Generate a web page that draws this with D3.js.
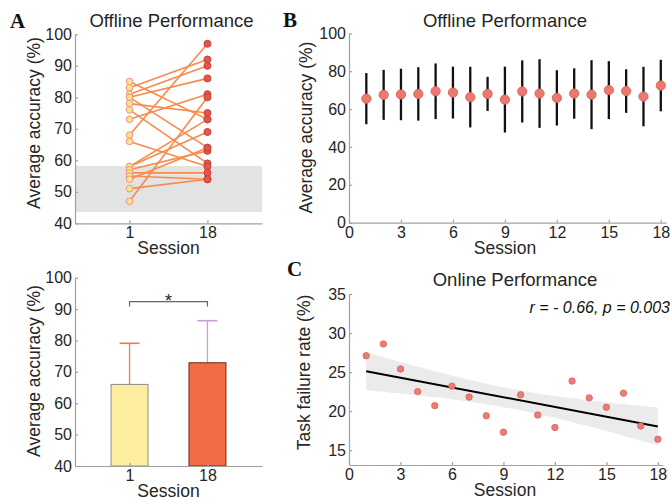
<!DOCTYPE html>
<html>
<head>
<meta charset="utf-8">
<script src="https://cdn.jsdelivr.net/npm/d3@7.9.0/dist/d3.min.js"></script>
<style>
  body { margin: 0; background: #fff; }
  svg { display: block; font-family: "Liberation Sans", Arial, sans-serif; }
  .axis path, .axis line { stroke: #a0a0a0; stroke-width: 1.2; }
  .axis text { fill: #262626; font-size: 16px; }
  .title { fill: #262626; font-size: 18.5px; text-anchor: middle; }
  .label { fill: #262626; font-size: 17.5px; text-anchor: middle; }
  .letter { fill: #111; font-size: 21px; font-weight: bold; font-family: "Liberation Serif", serif; }
</style>
</head>
<body>
<svg width="672" height="500"></svg>
<script>
// Panel A: accuracy of each subject at session 1 and session 18
const session1 = [85, 83, 81, 80, 80, 78, 76, 73, 68, 66, 58, 58, 57, 56, 55, 54, 51, 47];
const session18 = [73, 92, 90, 86, 64, 75, 59, 81, 97, 58, 73, 69, 63, 56, 54, 64, 54, 80];
const chanceBand = [43.6, 58.2];

// Bottom-left bars (mean and sd):
const barLabels = ['1', '18'];
const barMeans = [66, 72.9];
const barSDs = [13.1, 13.4];

// Panel B: offline accuracy per session
const sessions = [1, 2, 3, 4, 5, 6, 7, 8, 9, 10, 11, 12, 13, 14, 15, 16, 17, 18];
const offlineMean = [65.5, 67.5, 67.7, 68, 69.4, 68.7, 66.3, 68, 65, 69.3, 68.2, 65.9, 68.2, 67.6, 70, 69.5, 66.6, 72.4];
const offlineSD = [13.5, 13.2, 13.6, 14.1, 14.7, 13.7, 16, 9, 17.4, 16.4, 18.1, 14.6, 13.3, 18.2, 15.3, 11.5, 15.7, 13.6];

// Panel C: online task failure rate per session
const failureRate = [27.1, 28.6, 25.4, 22.5, 20.7, 23.2, 21.8, 19.4, 17.3, 22.1, 19.5, 17.9, 23.85, 21.7, 20.5, 22.3, 18.1, 16.4];

const svg = d3.select('svg');

// Shared helper for the MATLAB-like axes (ticks point inward):
function drawAxes(x, y, xTicks, yTicks, xFormat) {
  let [x0] = x.range();
  let [y0] = y.range();
  svg.append('g')
    .attr('class', 'axis')
    .attr('transform', `translate(0,${y0})`)
    .call(d3.axisBottom(x).tickValues(xTicks).tickSize(-3).tickSizeOuter(0).tickPadding(3.5).tickFormat(xFormat))
    .attr('font-family', null).attr('font-size', null);
  svg.append('g')
    .attr('class', 'axis')
    .attr('transform', `translate(${x0},0)`)
    .call(d3.axisLeft(y).tickValues(yTicks).tickSize(-3).tickSizeOuter(0).tickPadding(3))
    .attr('font-family', null).attr('font-size', null);
}

function addText(cls, x, y, txt, rotate) {
  let t = svg.append('text').attr('class', cls).text(txt);
  if (rotate) t.attr('transform', `translate(${x},${y}) rotate(-90)`);
  else t.attr('x', x).attr('y', y);
  return t;
}

// ---------- Panel A ----------
let xA = d3.scaleLinear().domain([0.3, 2.7]).range([75, 262]);
let yA = d3.scaleLinear().domain([40, 100]).range([223.3, 34.3]);

svg.append('rect')
  .attr('x', xA(0.3)).attr('width', xA(2.7) - xA(0.3))
  .attr('y', yA(chanceBand[1])).attr('height', yA(chanceBand[0]) - yA(chanceBand[1]))
  .attr('fill', '#e3e3e3');

drawAxes(xA, yA, [1, 2], d3.range(40, 101, 10), (d) => barLabels[d - 1]);

session1.forEach((v, i) => {
  svg.append('line')
    .attr('x1', xA(1)).attr('y1', yA(v))
    .attr('x2', xA(2)).attr('y2', yA(session18[i]))
    .attr('stroke', '#f98a4c').attr('stroke-width', 1.6);
});
session1.forEach((v) => {
  svg.append('circle').attr('cx', xA(1)).attr('cy', yA(v)).attr('r', 3.3)
    .attr('fill', '#fde58c').attr('stroke', '#e8967a').attr('stroke-width', 1);
});
session18.forEach((v) => {
  svg.append('circle').attr('cx', xA(2)).attr('cy', yA(v)).attr('r', 3.5)
    .attr('fill', '#e8534a').attr('stroke', '#c6403a').attr('stroke-width', 1);
});

addText('letter', 10, 28, 'A');
addText('title', 171.5, 27, 'Offline Performance');
addText('label', 168.5, 254, 'Session');
addText('label', 40, 123, 'Average accuracy (%)', true);

// ---------- Bottom-left bars ----------
let yBar = d3.scaleLinear().domain([40, 100]).range([466, 277.7]);
let barFill = ['#fdee9f', '#f26b43'];
let barStroke = ['#8c8c8c', '#6b2b1a'];
let errColor = ['#f07a4a', '#c79fd0'];

barMeans.forEach((m, i) => {
  let cx = xA(i + 1);
  // error bar (upper half only)
  svg.append('line').attr('x1', cx).attr('x2', cx)
    .attr('y1', yBar(m)).attr('y2', yBar(m + barSDs[i]))
    .attr('stroke', errColor[i]).attr('stroke-width', 1.3);
  svg.append('line').attr('x1', cx - 10).attr('x2', cx + 10)
    .attr('y1', yBar(m + barSDs[i])).attr('y2', yBar(m + barSDs[i]))
    .attr('stroke', errColor[i]).attr('stroke-width', 1.6);
  svg.append('rect')
    .attr('x', cx - 18.5).attr('width', 37)
    .attr('y', yBar(m)).attr('height', yBar(40) - yBar(m))
    .attr('fill', barFill[i]).attr('stroke', barStroke[i]).attr('stroke-width', 1);
});

drawAxes(xA, yBar, [1, 2], d3.range(40, 101, 10), (d) => barLabels[d - 1]);

// significance bracket
let brY = yBar(92.4);
svg.append('path')
  .attr('d', `M${xA(1)},${brY + 5}V${brY}H${xA(2)}V${brY + 5}`)
  .attr('fill', 'none').attr('stroke', '#666').attr('stroke-width', 1.2);
svg.append('text').attr('x', (xA(1) + xA(2)) / 2).attr('y', brY + 5)
  .attr('text-anchor', 'middle').attr('font-size', 18).attr('fill', '#222').text('*');

addText('label', 168.5, 497, 'Session');
addText('label', 40, 371, 'Average accuracy (%)', true);

// ---------- Panel B ----------
let xB = d3.scaleLinear().domain([0, 18.3]).range([349, 666]);
let yB = d3.scaleLinear().domain([0, 100]).range([222.7, 33.3]);

drawAxes(xB, yB, d3.range(0, 19, 3), d3.range(0, 101, 20), d3.format('d'));

sessions.forEach((s, i) => {
  svg.append('line')
    .attr('x1', xB(s)).attr('x2', xB(s))
    .attr('y1', yB(offlineMean[i] - offlineSD[i])).attr('y2', yB(offlineMean[i] + offlineSD[i]))
    .attr('stroke', '#111').attr('stroke-width', 2.3);
});
sessions.forEach((s, i) => {
  svg.append('circle').attr('cx', xB(s)).attr('cy', yB(offlineMean[i])).attr('r', 4.6)
    .attr('fill', '#ea7a70').attr('stroke', '#e0645a').attr('stroke-width', 1);
});

addText('letter', 283, 27, 'B');
addText('title', 505, 27, 'Offline Performance');
addText('label', 505, 254, 'Session');
addText('label', 312, 127.5, 'Average accuracy (%)', true);

// ---------- Panel C ----------
let xC = d3.scaleLinear().domain([0, 18.3]).range([349, 663]);
let yC = d3.scaleLinear().domain([13.1, 35]).range([465, 294]);

// Least squares fit with 95% confidence band:
let n = sessions.length;
let mx = d3.mean(sessions);
let my = d3.mean(failureRate);
let sxx = d3.sum(sessions, (s) => (s - mx) ** 2);
let sxy = d3.sum(sessions, (s, i) => (s - mx) * (failureRate[i] - my));
let slope = sxy / sxx;
let icpt = my - slope * mx;
let sse = d3.sum(sessions, (s, i) => (failureRate[i] - (icpt + slope * s)) ** 2);
let se = Math.sqrt(sse / (n - 2));
let tCrit = 2.12;
let grid = d3.range(1, 18.001, 0.25);
let band = grid.map((g) => {
  let fit = icpt + slope * g;
  let h = tCrit * se * Math.sqrt(1 / n + (g - mx) ** 2 / sxx);
  return { x: g, lo: fit - h, hi: fit + h };
});

svg.append('path')
  .datum(band)
  .attr('d', d3.area().x((d) => xC(d.x)).y0((d) => yC(d.lo)).y1((d) => yC(d.hi)))
  .attr('fill', '#ebebeb');

drawAxes(xC, yC, d3.range(0, 19, 3), d3.range(15, 36, 5), d3.format('d'));

svg.append('line')
  .attr('x1', xC(1)).attr('y1', yC(icpt + slope * 1))
  .attr('x2', xC(18)).attr('y2', yC(icpt + slope * 18))
  .attr('stroke', '#000').attr('stroke-width', 2);

sessions.forEach((s, i) => {
  svg.append('circle').attr('cx', xC(s)).attr('cy', yC(failureRate[i])).attr('r', 3.2)
    .attr('fill', '#ea7d76').attr('stroke', '#d9605a').attr('stroke-width', 0.8);
});

svg.append('text').attr('x', 670).attr('y', 313)
  .attr('text-anchor', 'end').attr('font-size', 16).attr('font-style', 'italic')
  .attr('fill', '#111').text('r = - 0.66, p = 0.003');

addText('letter', 287, 276, 'C');
addText('title', 515, 286, 'Online Performance');
addText('label', 505, 496, 'Session');
addText('label', 310, 372.5, 'Task failure rate (%)', true);
</script>
</body>
</html>
